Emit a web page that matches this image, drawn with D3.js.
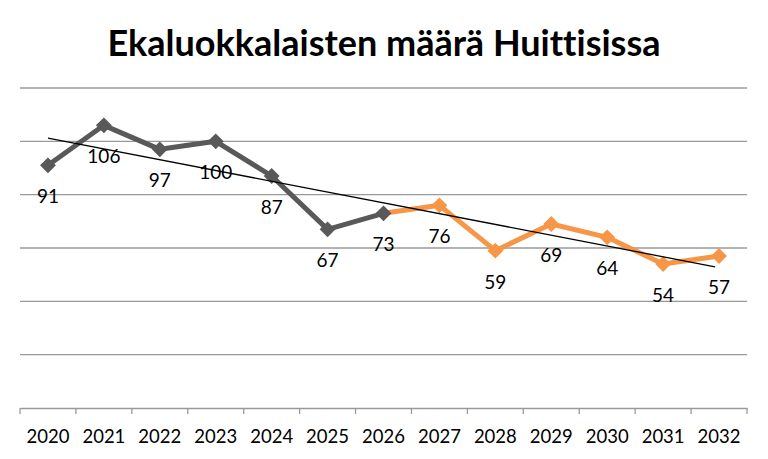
<!DOCTYPE html>
<html><head><meta charset="utf-8">
<script src="https://cdn.jsdelivr.net/npm/d3@7"></script>
<style>body{margin:0;background:#fff}svg{display:block}text{font-family:Lato,"Open Sans",sans-serif;font-variant-ligatures:none}</style>
</head><body><svg id="c" width="768" height="459"></svg>
<script>
const title = "Ekaluokkalaisten määrä Huittisissa";
const years = ["2020","2021","2022","2023","2024","2025","2026","2027","2028","2029","2030","2031","2032"];
const actualYears = ["2020","2021","2022","2023","2024","2025","2026"];
const actualValues = [91,106,97,100,87,67,73];
const forecastYears = ["2027","2028","2029","2030","2031","2032"];
const forecastValues = [76,59,69,64,54,57];
const yTicks = [0,20,40,60,80,100,120];

const svg = d3.select("#c");
const x = d3.scaleBand().domain(years).range([20,747]);
const y = d3.scaleLinear().domain([0,120]).range([408,88]);
const cx = d => x(d) + x.bandwidth()/2;

svg.append("text").attr("x",384).attr("y",56).attr("text-anchor","middle")
  .attr("font-size",36).attr("font-weight","bold").attr("fill","#000").text(title);

// grid
svg.append("g").selectAll("line").data(yTicks.filter(t=>t>0)).join("line")
  .attr("x1",20).attr("x2",747).attr("y1",d=>y(d)).attr("y2",d=>y(d))
  .attr("stroke","#999").attr("stroke-width",1.3);

// x axis
const xa = svg.append("g").attr("transform","translate(0,408)")
  .call(d3.axisBottom(x).tickSize(0).tickPadding(22));
xa.select(".domain").attr("stroke","#999").attr("stroke-width",1.3);
xa.selectAll("text").attr("font-size",18.5).attr("fill","#000").attr("font-family","Lato,sans-serif");
const bounds = years.map(d=>x(d)).concat([747]);
svg.append("g").selectAll("line").data(bounds).join("line")
  .attr("x1",d=>d).attr("x2",d=>d).attr("y1",408).attr("y2",414)
  .attr("stroke","#999").attr("stroke-width",1.3);

const allData = actualYears.map((k,i)=>({k,v:actualValues[i]}));
const fData = forecastYears.map((k,i)=>({k,v:forecastValues[i]}));
const line = d3.line().x(d=>cx(d.k)).y(d=>y(d.v));
const diamond = d3.symbol().type(d3.symbolDiamond2).size(160);

// forecast (orange), starts from last actual point
const fLineData = [allData[allData.length-1]].concat(fData);
svg.append("path").datum(fLineData).attr("d",line).attr("fill","none")
  .attr("stroke","#F79646").attr("stroke-width",5).attr("stroke-linejoin","round");
svg.append("g").selectAll("path").data(fData).join("path")
  .attr("d",diamond).attr("transform",d=>`translate(${cx(d.k)},${y(d.v)})`).attr("fill","#F79646");

// actual (gray)
svg.append("path").datum(allData).attr("d",line).attr("fill","none")
  .attr("stroke","#595959").attr("stroke-width",5).attr("stroke-linejoin","round");
svg.append("g").selectAll("path").data(allData).join("path")
  .attr("d",diamond).attr("transform",d=>`translate(${cx(d.k)},${y(d.v)})`).attr("fill","#595959");

// linear trend over all points
const all = allData.concat(fData);
const xs = all.map((d,i)=>i), ys = all.map(d=>d.v);
const mx = d3.mean(xs), my = d3.mean(ys);
const slope = d3.sum(xs.map((xi,i)=>(xi-mx)*(ys[i]-my))) / d3.sum(xs.map(xi=>(xi-mx)**2));
const icpt = my - slope*mx;
const n = all.length;
svg.append("line")
  .attr("x1",cx(years[0])).attr("y1",y(icpt))
  .attr("x2",cx(years[n-1])-4).attr("y2",y(icpt+slope*(n-1-4/x.step())))
  .attr("stroke","#000").attr("stroke-width",1.3);

// labels
svg.append("g").selectAll("text").data(all).join("text")
  .attr("x",d=>cx(d.k)).attr("y",d=>y(d.v)+38).attr("text-anchor","middle")
  .attr("font-size",19).attr("fill","#000").text(d=>d.v);
</script></body></html>
